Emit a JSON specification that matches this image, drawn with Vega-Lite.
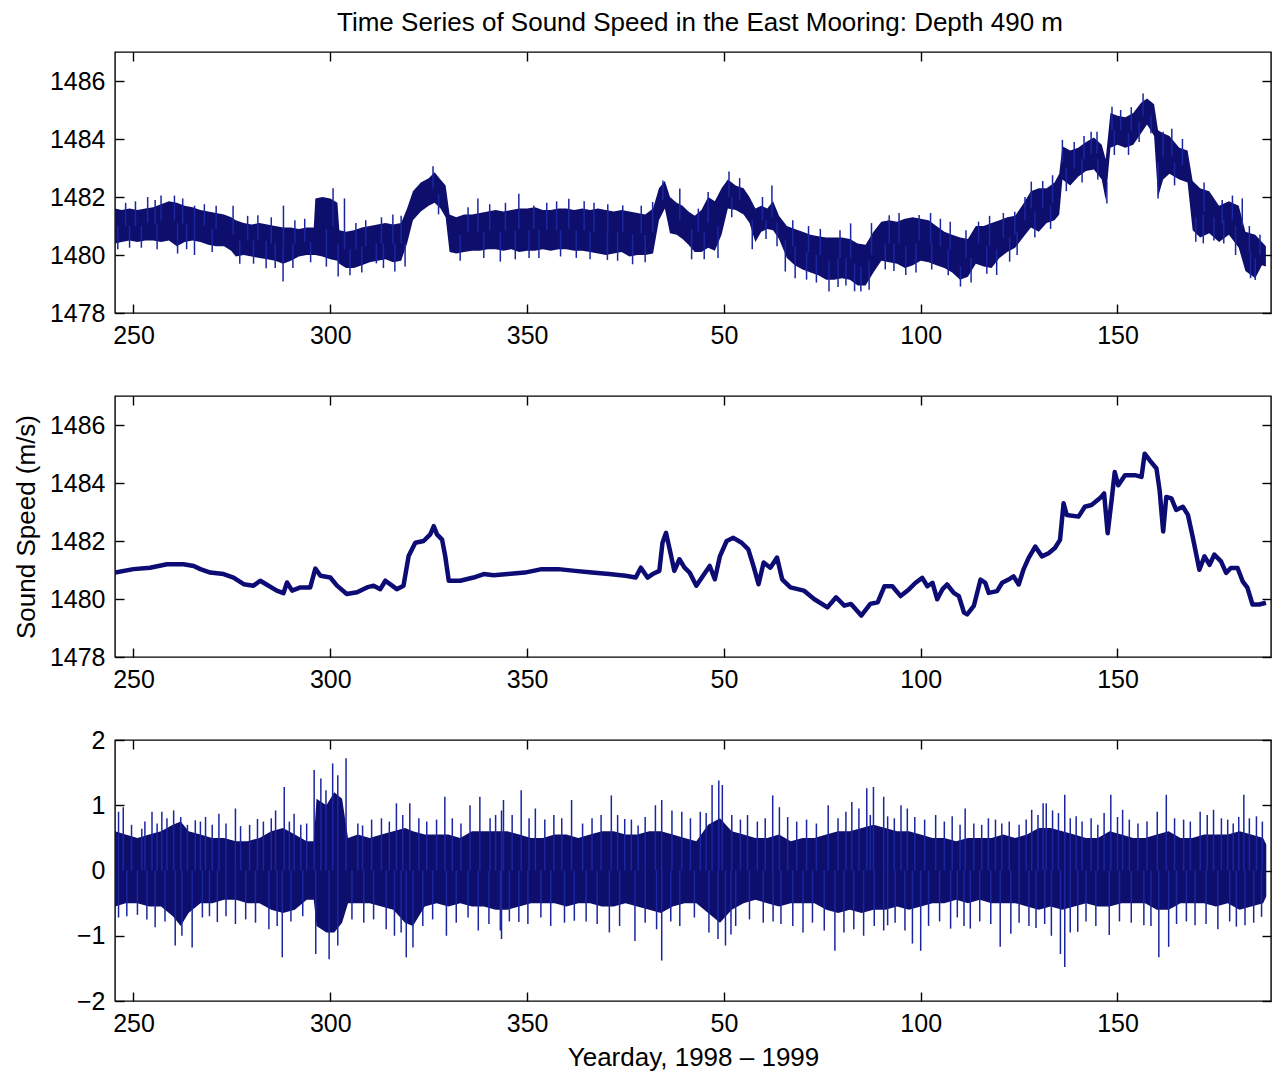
{
  "$schema": "https://vega.github.io/schema/vega-lite/v6.json",
  "background": "white",
  "padding": {"left": 12, "top": 9, "right": 5, "bottom": 5},
  "spacing": 83,
  "bounds": "flush",
  "config": {
    "font": "Liberation Sans",
    "view": {"stroke": "#000000", "strokeWidth": 1.4},
    "axis": {"domain": false, "grid": false, "ticks": true, "tickColor": "#000000", "tickSize": -9, "tickWidth": 1.4, "labelFontSize": 25, "labelColor": "#000000", "labelPadding": 19, "labelFlush": false, "labelOverlap": false, "titleFontSize": 26, "titleFontWeight": "normal", "titleColor": "#000000", "titleFont": "Liberation Sans", "labelFont": "Liberation Sans"}
  },
  "datasets": {
    "top": [
      {"d":245.3,"hi":1481.6,"lo":1480.4},{"d":247,"hi":1481.55,"lo":1480.45},{"d":249,"hi":1481.6,"lo":1480.5},{"d":251,"hi":1481.55,"lo":1480.45},{"d":253,"hi":1481.6,"lo":1480.5},{"d":255,"hi":1481.65,"lo":1480.5},{"d":257,"hi":1481.75,"lo":1480.45},{"d":259,"hi":1481.85,"lo":1480.5},{"d":261,"hi":1481.8,"lo":1480.3},{"d":263,"hi":1481.7,"lo":1480.45},{"d":265,"hi":1481.65,"lo":1480.5},{"d":267,"hi":1481.55,"lo":1480.45},{"d":269,"hi":1481.5,"lo":1480.35},{"d":271,"hi":1481.45,"lo":1480.3},{"d":273,"hi":1481.4,"lo":1480.3},{"d":274.8,"hi":1481.3,"lo":1480.15},{"d":276,"hi":1481.2,"lo":1479.95},{"d":278,"hi":1481.1,"lo":1480.0},{"d":280,"hi":1481.05,"lo":1479.95},{"d":282,"hi":1481.1,"lo":1479.9},{"d":284,"hi":1481.05,"lo":1479.85},{"d":286,"hi":1481.0,"lo":1479.8},{"d":288,"hi":1480.95,"lo":1479.7},{"d":290,"hi":1480.95,"lo":1479.8},{"d":292,"hi":1480.9,"lo":1479.95},{"d":294,"hi":1480.95,"lo":1480.0},{"d":295.8,"hi":1480.95,"lo":1480.0},{"d":296.2,"hi":1481.95,"lo":1480.0},{"d":298,"hi":1482.0,"lo":1479.95},{"d":300,"hi":1481.95,"lo":1479.85},{"d":301.8,"hi":1481.8,"lo":1479.8},{"d":302.3,"hi":1480.85,"lo":1479.7},{"d":304,"hi":1480.8,"lo":1479.55},{"d":306,"hi":1480.85,"lo":1479.55},{"d":308,"hi":1480.95,"lo":1479.65},{"d":310,"hi":1481.0,"lo":1479.75},{"d":312,"hi":1481.05,"lo":1479.8},{"d":314,"hi":1481.1,"lo":1479.85},{"d":316,"hi":1481.05,"lo":1479.75},{"d":318,"hi":1481.1,"lo":1479.8},{"d":319.5,"hi":1481.6,"lo":1480.4},{"d":321,"hi":1482.2,"lo":1481.2},{"d":323,"hi":1482.5,"lo":1481.5},{"d":325,"hi":1482.65,"lo":1481.7},{"d":326.5,"hi":1482.85,"lo":1481.8},{"d":328,"hi":1482.6,"lo":1481.6},{"d":329.3,"hi":1482.4,"lo":1481.3},{"d":330.3,"hi":1481.4,"lo":1480.1},{"d":332,"hi":1481.3,"lo":1480.05},{"d":334,"hi":1481.4,"lo":1480.1},{"d":336,"hi":1481.4,"lo":1480.15},{"d":338,"hi":1481.45,"lo":1480.15},{"d":340,"hi":1481.5,"lo":1480.2},
      {"d":342,"hi":1481.55,"lo":1480.2},{"d":344,"hi":1481.5,"lo":1480.15},{"d":346,"hi":1481.55,"lo":1480.2},{"d":348,"hi":1481.6,"lo":1480.1},{"d":350,"hi":1481.6,"lo":1480.15},{"d":352,"hi":1481.65,"lo":1480.15},{"d":354,"hi":1481.55,"lo":1480.2},{"d":356,"hi":1481.55,"lo":1480.15},{"d":358,"hi":1481.6,"lo":1480.2},{"d":360,"hi":1481.6,"lo":1480.2},{"d":362,"hi":1481.55,"lo":1480.15},{"d":364,"hi":1481.6,"lo":1480.15},{"d":366,"hi":1481.55,"lo":1480.1},{"d":368,"hi":1481.6,"lo":1480.05},{"d":370,"hi":1481.55,"lo":1480.0},{"d":372,"hi":1481.5,"lo":1480.05},{"d":374,"hi":1481.55,"lo":1480.1},{"d":376,"hi":1481.5,"lo":1479.95},{"d":378,"hi":1481.45,"lo":1480.0},{"d":380,"hi":1481.4,"lo":1480.0},{"d":382,"hi":1481.6,"lo":1480.05},{"d":383.5,"hi":1482.3,"lo":1481.2},{"d":385,"hi":1482.55,"lo":1481.6},{"d":386.3,"hi":1482.0,"lo":1480.75},{"d":388,"hi":1481.8,"lo":1480.7},{"d":389.5,"hi":1481.7,"lo":1480.55},{"d":391,"hi":1481.5,"lo":1480.35},{"d":392.6,"hi":1481.35,"lo":1480.1},{"d":394.3,"hi":1481.55,"lo":1480.1},{"d":396,"hi":1482.0,"lo":1480.25},{"d":397.7,"hi":1481.85,"lo":1480.15},{"d":399.4,"hi":1482.3,"lo":1480.7},{"d":401,"hi":1482.6,"lo":1481.6},{"d":403,"hi":1482.4,"lo":1481.55},{"d":405,"hi":1482.3,"lo":1481.4},{"d":406.5,"hi":1482.0,"lo":1481.1},{"d":408,"hi":1481.6,"lo":1480.45},{"d":409.5,"hi":1481.7,"lo":1480.8},{"d":411,"hi":1481.6,"lo":1480.9},{"d":412.5,"hi":1481.85,"lo":1480.85},{"d":414,"hi":1481.35,"lo":1480.55},{"d":416,"hi":1481.0,"lo":1479.9},{"d":418,"hi":1480.9,"lo":1479.65},{"d":420,"hi":1480.8,"lo":1479.5},{"d":422,"hi":1480.7,"lo":1479.4},{"d":424,"hi":1480.65,"lo":1479.3},{"d":426,"hi":1480.6,"lo":1479.15},{"d":428,"hi":1480.6,"lo":1479.15},{"d":430,"hi":1480.6,"lo":1479.2},{"d":432,"hi":1480.55,"lo":1479.15},{"d":434,"hi":1480.4,"lo":1478.95},{"d":436,"hi":1480.35,"lo":1478.95},{"d":438,"hi":1480.8,"lo":1479.4},{"d":440,"hi":1481.15,"lo":1479.8},
      {"d":442,"hi":1481.2,"lo":1479.75},{"d":444,"hi":1481.15,"lo":1479.7},{"d":446,"hi":1481.25,"lo":1479.55},{"d":448,"hi":1481.3,"lo":1479.65},{"d":450,"hi":1481.25,"lo":1479.8},{"d":452,"hi":1481.2,"lo":1479.75},{"d":454,"hi":1481.0,"lo":1479.65},{"d":456,"hi":1480.8,"lo":1479.55},{"d":458,"hi":1480.7,"lo":1479.4},{"d":460,"hi":1480.6,"lo":1479.15},{"d":462,"hi":1480.55,"lo":1479.25},{"d":464,"hi":1481.0,"lo":1479.7},{"d":466,"hi":1481.0,"lo":1479.6},{"d":468,"hi":1481.1,"lo":1479.55},{"d":470,"hi":1481.2,"lo":1479.9},{"d":472,"hi":1481.3,"lo":1480.1},{"d":474,"hi":1481.35,"lo":1480.25},{"d":476,"hi":1481.75,"lo":1480.6},{"d":478,"hi":1482.2,"lo":1480.95},{"d":480,"hi":1482.3,"lo":1480.8},{"d":482,"hi":1482.3,"lo":1481.1},{"d":484,"hi":1482.5,"lo":1481.2},{"d":485.2,"hi":1482.8,"lo":1481.4},{"d":486,"hi":1483.75,"lo":1482.6},{"d":488,"hi":1483.6,"lo":1482.4},{"d":490,"hi":1483.7,"lo":1482.7},{"d":492,"hi":1483.9,"lo":1482.9},{"d":494,"hi":1484.05,"lo":1482.95},{"d":496,"hi":1483.8,"lo":1482.6},{"d":497,"hi":1483.3,"lo":1481.9},{"d":498.2,"hi":1484.9,"lo":1483.7},{"d":500,"hi":1484.8,"lo":1483.8},{"d":502,"hi":1484.75,"lo":1483.7},{"d":504,"hi":1484.9,"lo":1483.8},{"d":506,"hi":1485.25,"lo":1484.2},{"d":507.5,"hi":1485.4,"lo":1484.5},{"d":509.3,"hi":1485.2,"lo":1484.1},{"d":510.3,"hi":1484.3,"lo":1482.0},{"d":511.6,"hi":1484.2,"lo":1482.6},{"d":513.2,"hi":1484.1,"lo":1482.8},{"d":515.7,"hi":1483.7,"lo":1482.6},{"d":517.8,"hi":1483.6,"lo":1482.5},{"d":519.1,"hi":1482.55,"lo":1480.85},{"d":521,"hi":1482.3,"lo":1480.6},{"d":523.3,"hi":1482.2,"lo":1480.75},{"d":525.8,"hi":1481.7,"lo":1480.45},{"d":528.3,"hi":1481.85,"lo":1480.7},{"d":530.8,"hi":1481.7,"lo":1480.25},{"d":532.5,"hi":1480.8,"lo":1479.45},{"d":535,"hi":1480.7,"lo":1479.2},{"d":536.7,"hi":1480.45,"lo":1479.65},{"d":537.7,"hi":1480.3,"lo":1479.6}
    ],
    "tsp": [
      {"d":253.6,"t":1482.0,"b":1481.1},{"d":257,"t":1482.05,"b":1481.2},{"d":260.4,"t":1482.05,"b":1481.2},{"d":265.5,"t":1481.7,"b":1481.1},{"d":275.3,"t":1481.7,"b":1480.7},{"d":281.6,"t":1481.37,"b":1480.5},{"d":288.1,"t":1481.7,"b":1480.3},{"d":300.7,"t":1482.3,"b":1481.0},{"d":303.6,"t":1481.95,"b":1480.2},{"d":315.9,"t":1481.4,"b":1480.4},{"d":326.1,"t":1483.06,"b":1482.3},{"d":337.5,"t":1481.95,"b":1480.8},{"d":347.9,"t":1482.11,"b":1480.9},{"d":351.7,"t":1481.71,"b":1480.9},{"d":360.6,"t":1481.94,"b":1480.9},{"d":374.3,"t":1481.71,"b":1480.8},{"d":381.9,"t":1481.83,"b":1480.8},{"d":384.5,"t":1482.57,"b":1481.9},{"d":388.8,"t":1482.29,"b":1481.2},{"d":396,"t":1482.17,"b":1481.1},{"d":401.3,"t":1482.88,"b":1482.0},{"d":412.2,"t":1482.4,"b":1481.3},{"d":432.2,"t":1481.09,"b":1479.9},{"d":442,"t":1481.37,"b":1480.4},{"d":449.6,"t":1481.38,"b":1480.5},{"d":457.5,"t":1481.15,"b":1480.2},{"d":464.7,"t":1481.15,"b":1480.4},{"d":473.9,"t":1481.49,"b":1480.7},{"d":478.1,"t":1482.53,"b":1481.6},{"d":486,"t":1483.97,"b":1483.2},{"d":494.8,"t":1484.25,"b":1483.5},{"d":498.6,"t":1485.11,"b":1484.3},{"d":506.5,"t":1485.57,"b":1484.8},{"d":511.6,"t":1484.25,"b":1483.4},{"d":526.6,"t":1481.9,"b":1481.1},{"d":531.7,"t":1481.95,"b":1481.0},
      {"d":246,"t":1480.2,"b":1481.0},{"d":261.2,"t":1480.05,"b":1481.1},{"d":265.5,"t":1480.0,"b":1481.1},{"d":283.7,"t":1479.54,"b":1480.5},{"d":288,"t":1479.09,"b":1480.3},{"d":302,"t":1479.26,"b":1480.4},{"d":311.7,"t":1479.71,"b":1480.4},{"d":316.4,"t":1479.43,"b":1480.4},{"d":343.2,"t":1479.77,"b":1480.8},{"d":370.4,"t":1479.83,"b":1480.8},{"d":376.8,"t":1479.68,"b":1480.7},{"d":415.6,"t":1479.43,"b":1480.5},{"d":418.1,"t":1479.2,"b":1480.3},{"d":426.7,"t":1478.74,"b":1479.8},{"d":434.8,"t":1478.74,"b":1479.6},{"d":436.9,"t":1478.8,"b":1479.8},{"d":446.2,"t":1479.31,"b":1480.3},{"d":460.1,"t":1478.91,"b":1479.6},{"d":469.3,"t":1479.31,"b":1480.2},{"d":472.6,"t":1479.77,"b":1480.6},{"d":497.3,"t":1481.78,"b":1482.5},{"d":510.3,"t":1481.95,"b":1483.2},{"d":519.9,"t":1480.46,"b":1481.3},{"d":535,"t":1479.14,"b":1479.9},
      {"d":248,"t":1481.8,"b":1481.0},{"d":250.5,"t":1481.85,"b":1481.0},{"d":255.5,"t":1481.9,"b":1481.05},{"d":262.5,"t":1481.95,"b":1481.05},{"d":268,"t":1481.75,"b":1481.0},{"d":271,"t":1481.7,"b":1480.9},{"d":279,"t":1481.35,"b":1480.5},{"d":285,"t":1481.3,"b":1480.4},{"d":291,"t":1481.2,"b":1480.4},{"d":293.5,"t":1481.25,"b":1480.45},{"d":306.5,"t":1481.1,"b":1480.2},{"d":309,"t":1481.2,"b":1480.3},{"d":313,"t":1481.3,"b":1480.4},{"d":318,"t":1481.35,"b":1480.4},{"d":335,"t":1481.65,"b":1480.8},{"d":340.5,"t":1481.75,"b":1480.85},{"d":344.5,"t":1481.8,"b":1480.85},{"d":355,"t":1481.8,"b":1480.85},{"d":357.5,"t":1481.85,"b":1480.85},{"d":364.5,"t":1481.85,"b":1480.85},{"d":367,"t":1481.8,"b":1480.8},{"d":370.5,"t":1481.75,"b":1480.8},{"d":379,"t":1481.7,"b":1480.75},{"d":393.5,"t":1481.6,"b":1480.8},{"d":404,"t":1482.65,"b":1481.9},{"d":409.8,"t":1482.0,"b":1481.2},{"d":417.5,"t":1481.2,"b":1480.3},{"d":421.5,"t":1481.0,"b":1480.1},{"d":424.5,"t":1480.9,"b":1480.0},{"d":429.5,"t":1480.85,"b":1479.9},{"d":437.5,"t":1481.1,"b":1480.0},{"d":444.5,"t":1481.45,"b":1480.4},{"d":452.5,"t":1481.45,"b":1480.4},{"d":455,"t":1481.25,"b":1480.3},{"d":461.5,"t":1480.85,"b":1479.9},{"d":467.5,"t":1481.35,"b":1480.3},{"d":471,"t":1481.45,"b":1480.6},{"d":476.5,"t":1482.0,"b":1481.2},{"d":481,"t":1482.55,"b":1481.6},{"d":483.5,"t":1482.75,"b":1481.8},{"d":489,"t":1483.9,"b":1483.0},{"d":491.5,"t":1484.1,"b":1483.3},{"d":493.3,"t":1484.25,"b":1483.5},{"d":500.8,"t":1485.0,"b":1484.3},{"d":503.5,"t":1485.1,"b":1484.3},{"d":513.8,"t":1484.35,"b":1483.4},{"d":516.5,"t":1484.0,"b":1483.1},{"d":522,"t":1482.5,"b":1481.5},{"d":529.2,"t":1482.05,"b":1481.2},{"d":533.5,"t":1481.0,"b":1480.1},{"d":536.2,"t":1480.7,"b":1480.0},
      {"d":249,"t":1480.25,"b":1481.0},{"d":252,"t":1480.25,"b":1481.0},{"d":256,"t":1480.2,"b":1481.05},{"d":263.5,"t":1480.2,"b":1481.05},{"d":270,"t":1480.1,"b":1480.9},{"d":277,"t":1479.7,"b":1480.5},{"d":280.5,"t":1479.7,"b":1480.5},{"d":286,"t":1479.55,"b":1480.4},{"d":290.5,"t":1479.55,"b":1480.4},{"d":295,"t":1479.75,"b":1480.45},{"d":299,"t":1479.6,"b":1480.9},{"d":305,"t":1479.3,"b":1480.2},{"d":308,"t":1479.4,"b":1480.3},{"d":313.5,"t":1479.55,"b":1480.4},{"d":319,"t":1479.6,"b":1480.4},{"d":327.5,"t":1481.4,"b":1482.1},{"d":333,"t":1479.8,"b":1480.7},{"d":339,"t":1479.9,"b":1480.8},{"d":347,"t":1479.85,"b":1480.85},{"d":350.5,"t":1479.9,"b":1480.85},{"d":353,"t":1479.9,"b":1480.85},{"d":358.5,"t":1479.95,"b":1480.85},{"d":362.5,"t":1479.9,"b":1480.85},{"d":366,"t":1479.85,"b":1480.8},{"d":373,"t":1479.8,"b":1480.8},{"d":380,"t":1479.75,"b":1480.7},{"d":391.8,"t":1479.85,"b":1480.9},{"d":395,"t":1479.85,"b":1480.8},{"d":398.5,"t":1479.9,"b":1481.0},{"d":402,"t":1481.3,"b":1482.0},{"d":407.2,"t":1480.2,"b":1481.2},{"d":410.7,"t":1480.55,"b":1481.2},{"d":413.5,"t":1480.3,"b":1481.1},{"d":421,"t":1479.15,"b":1480.1},{"d":423.5,"t":1479.05,"b":1480.0},{"d":429,"t":1478.9,"b":1479.9},{"d":431,"t":1478.95,"b":1479.9},{"d":433.2,"t":1478.75,"b":1479.7},{"d":441,"t":1479.5,"b":1480.4},{"d":443.2,"t":1479.45,"b":1480.4},{"d":448.8,"t":1479.4,"b":1480.4},{"d":452.8,"t":1479.5,"b":1480.4},{"d":457,"t":1479.3,"b":1480.2},{"d":462.8,"t":1479.05,"b":1479.9},{"d":466.8,"t":1479.35,"b":1480.3},{"d":474.5,"t":1480.0,"b":1480.8},{"d":479,"t":1480.6,"b":1481.5},{"d":483,"t":1480.9,"b":1481.7},{"d":487,"t":1482.2,"b":1483.0},{"d":491,"t":1482.5,"b":1483.3},{"d":495,"t":1482.6,"b":1483.3},{"d":499.2,"t":1483.45,"b":1484.3},{"d":502.8,"t":1483.45,"b":1484.2},{"d":505.5,"t":1483.9,"b":1484.6},{"d":508.5,"t":1484.2,"b":1484.8},{"d":514.5,"t":1482.4,"b":1483.2},{"d":521.8,"t":1480.4,"b":1481.4},{"d":524.5,"t":1480.5,"b":1481.3},{"d":527,"t":1480.4,"b":1481.2},{"d":530,"t":1480.0,"b":1481.0},{"d":533.8,"t":1479.2,"b":1480.1}
    ],
    "mid": [
      {"d":245.3,"v":1480.91},{"d":250,"v":1481.03},{"d":254.2,"v":1481.08},{"d":258.5,"v":1481.2},{"d":262.7,"v":1481.2},{"d":265.3,"v":1481.14},{"d":267,"v":1481.03},{"d":269.5,"v":1480.91},{"d":272.9,"v":1480.86},{"d":275.4,"v":1480.74},{"d":278,"v":1480.51},{"d":280.5,"v":1480.46},{"d":282.2,"v":1480.63},{"d":283.9,"v":1480.49},{"d":286.4,"v":1480.29},{"d":288.1,"v":1480.2},{"d":289,"v":1480.57},{"d":290.3,"v":1480.29},{"d":292.4,"v":1480.4},{"d":294.9,"v":1480.4},{"d":296.2,"v":1481.05},{"d":297.5,"v":1480.8},{"d":300,"v":1480.74},{"d":301.7,"v":1480.46},{"d":304.2,"v":1480.17},{"d":306.8,"v":1480.23},{"d":309.3,"v":1480.4},{"d":311,"v":1480.46},{"d":312.7,"v":1480.34},{"d":314,"v":1480.63},{"d":315.7,"v":1480.46},{"d":316.9,"v":1480.34},{"d":318.6,"v":1480.46},{"d":319.9,"v":1481.48},{"d":321.6,"v":1481.94},{"d":323.7,"v":1482.0},{"d":325.4,"v":1482.23},{"d":326.3,"v":1482.51},{"d":327.1,"v":1482.23},{"d":328.4,"v":1482.05},{"d":329.2,"v":1481.48},{"d":330.1,"v":1480.63},{"d":333,"v":1480.63},{"d":336.4,"v":1480.74},{"d":339,"v":1480.86},
      {"d":341.5,"v":1480.82},{"d":345.1,"v":1480.86},{"d":349.4,"v":1480.91},{"d":353.7,"v":1481.03},{"d":357.9,"v":1481.03},{"d":362.2,"v":1480.97},{"d":366.5,"v":1480.91},{"d":370.8,"v":1480.86},{"d":375,"v":1480.8},{"d":377.6,"v":1480.74},{"d":378.9,"v":1481.08},{"d":380.6,"v":1480.74},{"d":381.9,"v":1480.86},{"d":383.6,"v":1480.97},{"d":384.4,"v":1481.94},{"d":385.3,"v":1482.28},{"d":386.6,"v":1481.48},{"d":387.4,"v":1480.97},{"d":388.7,"v":1481.37},{"d":390,"v":1481.08},{"d":391.3,"v":1480.91},{"d":393,"v":1480.46},{"d":394.7,"v":1480.8},{"d":396.4,"v":1481.14},{"d":397.7,"v":1480.68},{"d":399,"v":1481.48},{"d":400.7,"v":1482.0},{"d":402.4,"v":1482.11},{"d":404.5,"v":1481.94},{"d":406.2,"v":1481.71},{"d":407.5,"v":1481.14},{"d":408.8,"v":1480.51},{"d":410.1,"v":1481.26},{"d":411.8,"v":1481.08},{"d":413.5,"v":1481.43},{"d":414.8,"v":1480.68},{"d":416.9,"v":1480.4},{"d":420.3,"v":1480.29},{"d":422.9,"v":1480.0},{"d":426.3,"v":1479.71},{"d":428.5,"v":1480.06},{"d":430.6,"v":1479.77},{"d":432.3,"v":1479.83},{"d":434.9,"v":1479.43},{"d":437.2,"v":1479.83},{"d":439.1,"v":1479.89},
      {"d":440.8,"v":1480.44},{"d":442.8,"v":1480.44},{"d":444.9,"v":1480.1},{"d":447,"v":1480.33},{"d":448.7,"v":1480.56},{"d":450.4,"v":1480.73},{"d":451.7,"v":1480.44},{"d":453,"v":1480.56},{"d":454.2,"v":1479.99},{"d":455.5,"v":1480.33},{"d":456.7,"v":1480.5},{"d":458.4,"v":1480.21},{"d":459.7,"v":1480.1},{"d":461,"v":1479.53},{"d":461.8,"v":1479.47},{"d":463.5,"v":1479.76},{"d":465.2,"v":1480.67},{"d":466.4,"v":1480.56},{"d":467.3,"v":1480.21},{"d":469.4,"v":1480.27},{"d":470.7,"v":1480.56},{"d":472.3,"v":1480.67},{"d":473.6,"v":1480.78},{"d":474.9,"v":1480.5},{"d":476.1,"v":1481.01},{"d":477.4,"v":1481.41},{"d":479.1,"v":1481.81},{"d":480.8,"v":1481.47},{"d":482.5,"v":1481.58},{"d":484.1,"v":1481.76},{"d":485.4,"v":1482.04},{"d":486.3,"v":1483.3},{"d":487.1,"v":1482.9},{"d":490.1,"v":1482.84},{"d":491.7,"v":1483.18},{"d":493.4,"v":1483.24},{"d":495.5,"v":1483.47},{"d":496.6,"v":1483.64},{"d":497.5,"v":1482.27},{"d":498.5,"v":1483.41},{"d":499.3,"v":1484.38},{"d":500.2,"v":1483.92},{"d":501.9,"v":1484.27},{"d":504.4,"v":1484.27},{"d":506.1,"v":1484.21},{"d":506.9,"v":1485.01},{"d":508.2,"v":1484.78},{"d":509.9,"v":1484.5},{"d":510.7,"v":1483.75},{"d":511.6,"v":1482.33},{"d":512.4,"v":1483.52},{"d":513.7,"v":1483.47},{"d":514.9,"v":1483.07},{"d":516.6,"v":1483.18},{"d":517.9,"v":1482.9},{"d":519.1,"v":1482.15},{"d":520.8,"v":1481.01},{"d":522.1,"v":1481.47},{"d":523.4,"v":1481.18},{"d":524.6,"v":1481.53},{"d":526.3,"v":1481.3},{"d":527.6,"v":1480.9},{"d":528.8,"v":1481.07},{"d":530.5,"v":1481.07},{"d":531.8,"v":1480.61},{"d":533,"v":1480.39},{"d":534.3,"v":1479.81},{"d":536,"v":1479.81},{"d":537.7,"v":1479.87}
    ],
    "bot": [
      {"d":245.3,"hi":0.6,"lo":-0.55},{"d":248,"hi":0.55,"lo":-0.5},{"d":251,"hi":0.5,"lo":-0.5},{"d":254,"hi":0.55,"lo":-0.55},{"d":257,"hi":0.6,"lo":-0.55},{"d":260,"hi":0.7,"lo":-0.7},{"d":262,"hi":0.75,"lo":-0.85},{"d":264,"hi":0.6,"lo":-0.65},{"d":267,"hi":0.55,"lo":-0.5},{"d":270,"hi":0.5,"lo":-0.5},{"d":273,"hi":0.5,"lo":-0.45},{"d":276,"hi":0.45,"lo":-0.45},{"d":279,"hi":0.45,"lo":-0.5},{"d":282,"hi":0.5,"lo":-0.5},{"d":285,"hi":0.6,"lo":-0.6},{"d":288,"hi":0.65,"lo":-0.65},{"d":291,"hi":0.55,"lo":-0.6},{"d":294,"hi":0.45,"lo":-0.45},{"d":295.8,"hi":0.45,"lo":-0.45},{"d":296.5,"hi":1.1,"lo":-0.85},{"d":299,"hi":1.0,"lo":-0.95},{"d":301,"hi":1.2,"lo":-0.95},{"d":303,"hi":1.1,"lo":-0.8},{"d":304.5,"hi":0.5,"lo":-0.5},{"d":307,"hi":0.55,"lo":-0.5},{"d":310,"hi":0.5,"lo":-0.5},{"d":313,"hi":0.55,"lo":-0.55},{"d":316,"hi":0.6,"lo":-0.6},{"d":319,"hi":0.65,"lo":-0.8},{"d":321,"hi":0.6,"lo":-0.85},{"d":324,"hi":0.55,"lo":-0.55},{"d":327,"hi":0.55,"lo":-0.5},{"d":330,"hi":0.55,"lo":-0.55},{"d":333,"hi":0.5,"lo":-0.5},{"d":336,"hi":0.6,"lo":-0.55},{"d":339,"hi":0.6,"lo":-0.55},{"d":342,"hi":0.6,"lo":-0.6},
      {"d":345,"hi":0.6,"lo":-0.6},{"d":348,"hi":0.55,"lo":-0.55},{"d":351,"hi":0.5,"lo":-0.5},{"d":354,"hi":0.5,"lo":-0.5},{"d":357,"hi":0.55,"lo":-0.5},{"d":360,"hi":0.55,"lo":-0.55},{"d":363,"hi":0.5,"lo":-0.5},{"d":366,"hi":0.55,"lo":-0.5},{"d":369,"hi":0.6,"lo":-0.55},{"d":372,"hi":0.6,"lo":-0.55},{"d":375,"hi":0.55,"lo":-0.5},{"d":378,"hi":0.55,"lo":-0.55},{"d":381,"hi":0.6,"lo":-0.6},{"d":384,"hi":0.6,"lo":-0.65},{"d":387,"hi":0.55,"lo":-0.55},{"d":390,"hi":0.5,"lo":-0.5},{"d":393,"hi":0.45,"lo":-0.5},{"d":396,"hi":0.7,"lo":-0.65},{"d":399,"hi":0.8,"lo":-0.8},{"d":402,"hi":0.6,"lo":-0.6},{"d":405,"hi":0.55,"lo":-0.5},{"d":408,"hi":0.5,"lo":-0.45},{"d":411,"hi":0.5,"lo":-0.5},{"d":414,"hi":0.55,"lo":-0.55},{"d":417,"hi":0.45,"lo":-0.5},{"d":420,"hi":0.5,"lo":-0.5},{"d":423,"hi":0.5,"lo":-0.5},{"d":426,"hi":0.55,"lo":-0.6},{"d":429,"hi":0.6,"lo":-0.65},{"d":432,"hi":0.6,"lo":-0.6},{"d":435,"hi":0.65,"lo":-0.65},{"d":438,"hi":0.7,"lo":-0.6},{"d":441,"hi":0.65,"lo":-0.6},
      {"d":444,"hi":0.6,"lo":-0.55},{"d":447,"hi":0.6,"lo":-0.6},{"d":450,"hi":0.55,"lo":-0.55},{"d":453,"hi":0.5,"lo":-0.5},{"d":456,"hi":0.5,"lo":-0.5},{"d":459,"hi":0.45,"lo":-0.45},{"d":462,"hi":0.5,"lo":-0.5},{"d":465,"hi":0.5,"lo":-0.45},{"d":468,"hi":0.5,"lo":-0.5},{"d":471,"hi":0.55,"lo":-0.5},{"d":474,"hi":0.5,"lo":-0.5},{"d":477,"hi":0.55,"lo":-0.55},{"d":480,"hi":0.65,"lo":-0.6},{"d":483,"hi":0.65,"lo":-0.55},{"d":486,"hi":0.6,"lo":-0.6},{"d":489,"hi":0.55,"lo":-0.55},{"d":492,"hi":0.5,"lo":-0.5},{"d":495,"hi":0.5,"lo":-0.55},{"d":498,"hi":0.6,"lo":-0.55},{"d":501,"hi":0.55,"lo":-0.5},{"d":504,"hi":0.5,"lo":-0.5},{"d":507,"hi":0.5,"lo":-0.5},{"d":510,"hi":0.55,"lo":-0.6},{"d":513,"hi":0.6,"lo":-0.6},{"d":516,"hi":0.5,"lo":-0.5},{"d":519,"hi":0.5,"lo":-0.5},{"d":522,"hi":0.55,"lo":-0.5},{"d":525,"hi":0.55,"lo":-0.55},{"d":528,"hi":0.55,"lo":-0.5},{"d":531,"hi":0.6,"lo":-0.6},{"d":534,"hi":0.55,"lo":-0.55},{"d":537,"hi":0.5,"lo":-0.5},{"d":537.8,"hi":0.4,"lo":-0.4}
    ],
    "bsp": [
      {"d":246.2,"v":0.9},{"d":247.4,"v":0.97},{"d":252.1,"v":0.64},{"d":254.7,"v":0.9},{"d":257.2,"v":0.9},{"d":260.2,"v":0.92},{"d":265.7,"v":0.77},{"d":268.3,"v":0.82},{"d":271.7,"v":0.87},{"d":275.9,"v":0.95},{"d":281.5,"v":0.79},{"d":286.1,"v":0.92},{"d":288.3,"v":1.28},{"d":290.8,"v":0.87},{"d":295.9,"v":1.54},{"d":297.6,"v":1.41},{"d":298.9,"v":1.23},{"d":300.6,"v":1.64},{"d":301.9,"v":1.46},{"d":304,"v":1.72},{"d":308.2,"v":0.69},{"d":316.8,"v":1.03},{"d":320.2,"v":1.03},{"d":329.1,"v":1.13},{"d":335.5,"v":1.0},{"d":338,"v":1.13},{"d":343.5,"v":0.92},
      {"d":246.2,"v":-0.72},{"d":255.5,"v":-0.87},{"d":260.6,"v":-1.15},{"d":264.9,"v":-1.18},{"d":271.3,"v":-0.79},{"d":275.9,"v":-0.82},{"d":284.4,"v":-0.9},{"d":287.8,"v":-1.33},{"d":296.3,"v":-1.28},{"d":299.7,"v":-1.36},{"d":301.9,"v":-1.15},{"d":314.2,"v":-0.9},{"d":316.3,"v":-1.0},{"d":319.3,"v":-1.33},{"d":321,"v":-1.18},{"d":329.5,"v":-1.0},{"d":337.6,"v":-0.92},{"d":343.5,"v":-1.05},
      {"d":344,"v":1.08},{"d":348.5,"v":1.23},{"d":352.1,"v":0.95},{"d":356.8,"v":0.85},{"d":361.3,"v":1.08},{"d":364.1,"v":0.72},{"d":368.8,"v":0.85},{"d":371.4,"v":1.15},{"d":374.8,"v":0.79},{"d":378.2,"v":0.69},{"d":382.6,"v":1.0},{"d":384.2,"v":1.08},{"d":386.8,"v":0.92},{"d":389.3,"v":0.9},{"d":394,"v":0.9},{"d":397,"v":1.31},{"d":398.7,"v":1.38},{"d":399.6,"v":1.31},{"d":406,"v":0.85},{"d":412.4,"v":1.15},{"d":414.1,"v":0.97},{"d":416.2,"v":0.82},{"d":426.5,"v":1.0},{"d":432.5,"v":1.05},{"d":436.3,"v":1.26},{"d":438,"v":1.28},{"d":440.6,"v":1.13},
      {"d":343.2,"v":-0.92},{"d":347.9,"v":-0.79},{"d":362,"v":-0.77},{"d":370.9,"v":-0.95},{"d":377.4,"v":-1.08},{"d":382.9,"v":-0.9},{"d":384.2,"v":-1.38},{"d":396.2,"v":-0.95},{"d":400.4,"v":-1.15},{"d":403,"v":-0.85},{"d":414.5,"v":-0.82},{"d":420.1,"v":-0.95},{"d":428.2,"v":-1.23},{"d":435.5,"v":-1.0},{"d":440.6,"v":-0.92},
      {"d":441.6,"v":0.83},{"d":445,"v":1.0},{"d":446.6,"v":0.95},{"d":453.8,"v":0.85},{"d":458,"v":0.83},{"d":461.3,"v":0.95},{"d":467.2,"v":0.8},{"d":470.6,"v":0.72},{"d":478.2,"v":0.93},{"d":481.1,"v":1.03},{"d":481.9,"v":1.03},{"d":486.6,"v":1.16},{"d":489.5,"v":0.83},{"d":493.3,"v":0.8},{"d":496.6,"v":0.88},{"d":498.3,"v":1.16},{"d":501.3,"v":0.93},{"d":510.1,"v":0.9},{"d":512.4,"v":1.16},{"d":521,"v":0.9},{"d":524.4,"v":0.93},{"d":529.4,"v":0.72},{"d":532.1,"v":1.16},{"d":535.3,"v":0.83},
      {"d":441.6,"v":-0.84},{"d":447.9,"v":-1.12},{"d":450,"v":-1.23},{"d":457.6,"v":-0.89},{"d":462.6,"v":-0.89},{"d":470.2,"v":-1.17},{"d":472.9,"v":-0.97},{"d":481.5,"v":-0.82},{"d":485.5,"v":-1.28},{"d":486.6,"v":-1.48},{"d":489.9,"v":-0.94},{"d":497.9,"v":-0.99},{"d":506.7,"v":-0.84},{"d":510.5,"v":-1.33},{"d":513,"v":-1.17},{"d":519.7,"v":-0.84},{"d":532.4,"v":-0.84},{"d":536.6,"v":-0.71},
      {"d":249.5,"v":0.7},{"d":252.9,"v":0.75},{"d":256,"v":0.72},{"d":258.5,"v":0.8},{"d":262,"v":0.82},{"d":263.7,"v":0.7},{"d":267,"v":0.75},{"d":270,"v":0.7},{"d":273.5,"v":0.72},{"d":277.2,"v":0.68},{"d":279.5,"v":0.7},{"d":283,"v":0.75},{"d":285,"v":0.8},{"d":289.6,"v":0.75},{"d":292.5,"v":0.7},{"d":294,"v":0.72},{"d":307,"v":0.72},{"d":310.5,"v":0.78},{"d":313,"v":0.8},{"d":315,"v":0.75},{"d":318.4,"v":0.85},{"d":322.5,"v":0.8},{"d":324.5,"v":0.75},{"d":327,"v":0.78},{"d":331,"v":0.8},{"d":333.2,"v":0.72},{"d":340.6,"v":0.8},{"d":342,"v":0.85},
      {"d":248.3,"v":-0.7},{"d":251,"v":-0.68},{"d":253.4,"v":-0.75},{"d":258,"v":-0.78},{"d":262.3,"v":-1.0},{"d":267.5,"v":-0.72},{"d":269.3,"v":-0.7},{"d":273.5,"v":-0.7},{"d":278.5,"v":-0.75},{"d":281,"v":-0.8},{"d":286.5,"v":-0.85},{"d":290,"v":-0.78},{"d":293,"v":-0.7},{"d":305.5,"v":-0.75},{"d":308.5,"v":-0.8},{"d":311,"v":-0.75},{"d":318,"v":-0.95},{"d":323.5,"v":-0.85},{"d":326,"v":-0.75},{"d":332,"v":-0.8},{"d":335,"v":-0.72},{"d":340.3,"v":-0.82},
      {"d":346.2,"v":0.85},{"d":350.5,"v":0.8},{"d":354.5,"v":0.78},{"d":358.8,"v":0.8},{"d":366.5,"v":0.8},{"d":373,"v":0.85},{"d":376.5,"v":0.78},{"d":380,"v":0.82},{"d":391.5,"v":0.8},{"d":395.5,"v":0.88},{"d":402,"v":0.85},{"d":404.2,"v":0.78},{"d":408.5,"v":0.75},{"d":410.5,"v":0.8},{"d":418.5,"v":0.75},{"d":421,"v":0.78},{"d":423.5,"v":0.72},{"d":429,"v":0.8},{"d":431,"v":0.9},{"d":434.3,"v":0.95},{"d":437.2,"v":0.85},
      {"d":345.5,"v":-0.78},{"d":350.2,"v":-0.82},{"d":353.5,"v":-0.72},{"d":356,"v":-0.85},{"d":359.5,"v":-0.8},{"d":365,"v":-0.78},{"d":367.8,"v":-0.82},{"d":373.5,"v":-0.85},{"d":380,"v":-0.8},{"d":386.5,"v":-0.78},{"d":388.8,"v":-0.85},{"d":392.5,"v":-0.72},{"d":398.5,"v":-1.05},{"d":401.8,"v":-0.98},{"d":406.5,"v":-0.75},{"d":410,"v":-0.8},{"d":412.5,"v":-0.78},{"d":417.5,"v":-0.85},{"d":422.5,"v":-0.8},{"d":425.5,"v":-0.92},{"d":430.5,"v":-0.95},{"d":433,"v":-0.9},{"d":438.2,"v":-0.85},
      {"d":443.3,"v":0.8},{"d":448.5,"v":0.82},{"d":451,"v":0.78},{"d":456,"v":0.75},{"d":460,"v":0.7},{"d":463.5,"v":0.72},{"d":465.5,"v":0.7},{"d":469,"v":0.78},{"d":472.5,"v":0.75},{"d":475,"v":0.7},{"d":476.8,"v":0.78},{"d":479.8,"v":0.85},{"d":483.5,"v":0.92},{"d":485,"v":0.88},{"d":488,"v":0.8},{"d":491,"v":0.75},{"d":495,"v":0.7},{"d":500,"v":0.82},{"d":503,"v":0.78},{"d":505.2,"v":0.72},{"d":507.5,"v":0.75},{"d":514.5,"v":0.8},{"d":516.8,"v":0.78},{"d":518.5,"v":0.75},{"d":522.8,"v":0.85},{"d":526.4,"v":0.8},{"d":528,"v":0.78},{"d":530.8,"v":0.82},{"d":533.5,"v":0.8},{"d":536.8,"v":0.75},
      {"d":443.5,"v":-0.8},{"d":446,"v":-0.92},{"d":452,"v":-0.85},{"d":454.8,"v":-0.78},{"d":459.3,"v":-0.72},{"d":461,"v":-0.85},{"d":465,"v":-0.78},{"d":467.8,"v":-0.82},{"d":475,"v":-0.8},{"d":477.5,"v":-0.85},{"d":479.3,"v":-0.88},{"d":483.2,"v":-1.0},{"d":488,"v":-0.95},{"d":492,"v":-0.78},{"d":494.5,"v":-0.85},{"d":500.5,"v":-0.78},{"d":503.5,"v":-0.8},{"d":508.5,"v":-0.85},{"d":515,"v":-0.82},{"d":517.5,"v":-0.78},{"d":522.5,"v":-0.82},{"d":525.5,"v":-0.9},{"d":528.5,"v":-0.78},{"d":530.2,"v":-0.86},{"d":534.6,"v":-0.8}
    ]
  },
  "vconcat": [
    {
      "width": 1156,
      "height": 261,
      "title": {"text": "Time Series of Sound Speed in the East Mooring: Depth 490 m", "fontSize": 26, "fontWeight": "normal", "font": "Liberation Sans", "color": "#000000", "offset": 15, "dx": 7},
      "resolve": {"axis": {"x": "independent", "y": "independent"}},
      "layer": [
        {
          "data": {"name": "top"},
          "mark": {"type": "area", "color": "#0e0e6c", "clip": true},
          "encoding": {
            "x": {"field": "d", "type": "quantitative", "scale": {"domain": [245.3, 539], "nice": false, "zero": false}, "axis": {"values": [250, 300, 350, 400, 450, 500], "labelExpr": "datum.value >= 400 ? format(datum.value - 350, 'd') : format(datum.value, 'd')", "title": null}},
            "y": {"field": "hi", "type": "quantitative", "scale": {"domain": [1478, 1487], "nice": false, "zero": false}, "axis": {"values": [1478, 1480, 1482, 1484, 1486], "format": "d", "title": null}},
            "y2": {"field": "lo"}
          }
        },
        {
          "data": {"name": "tsp"},
          "mark": {"type": "rule", "color": "#1a26a0", "strokeWidth": 1.5, "clip": true},
          "encoding": {
            "x": {"field": "d", "type": "quantitative", "axis": {"orient": "top", "values": [250, 300, 350, 400, 450, 500], "labels": false, "title": null}},
            "y": {"field": "t", "type": "quantitative", "axis": {"orient": "right", "values": [1478, 1480, 1482, 1484, 1486], "labels": false, "title": null}},
            "y2": {"field": "b"}
          }
        }
      ]
    },
    {
      "width": 1156,
      "height": 261,
      "resolve": {"axis": {"x": "independent", "y": "independent"}},
      "layer": [
        {
          "data": {"name": "mid"},
          "mark": {"type": "line", "color": "#0c0c74", "strokeWidth": 4.5, "clip": true, "strokeJoin": "round"},
          "encoding": {
            "x": {"field": "d", "type": "quantitative", "scale": {"domain": [245.3, 539], "nice": false, "zero": false}, "axis": {"values": [250, 300, 350, 400, 450, 500], "labelExpr": "datum.value >= 400 ? format(datum.value - 350, 'd') : format(datum.value, 'd')", "title": null}},
            "y": {"field": "v", "type": "quantitative", "scale": {"domain": [1478, 1487], "nice": false, "zero": false}, "axis": {"values": [1478, 1480, 1482, 1484, 1486], "format": "d", "title": "Sound Speed (m/s)", "titlePadding": 10}}
          }
        },
        {
          "data": {"name": "mid"},
          "mark": {"type": "line", "color": "#0c0c74", "strokeWidth": 1, "clip": true},
          "encoding": {
            "x": {"field": "d", "type": "quantitative", "axis": {"orient": "top", "values": [250, 300, 350, 400, 450, 500], "labels": false, "title": null}},
            "y": {"field": "v", "type": "quantitative", "axis": {"orient": "right", "values": [1478, 1480, 1482, 1484, 1486], "labels": false, "title": null}}
          }
        }
      ]
    },
    {
      "width": 1156,
      "height": 261,
      "resolve": {"axis": {"x": "independent", "y": "independent"}},
      "layer": [
        {
          "data": {"name": "bot"},
          "mark": {"type": "area", "color": "#0e0e6c", "clip": true},
          "encoding": {
            "x": {"field": "d", "type": "quantitative", "scale": {"domain": [245.3, 539], "nice": false, "zero": false}, "axis": {"values": [250, 300, 350, 400, 450, 500], "labelExpr": "datum.value >= 400 ? format(datum.value - 350, 'd') : format(datum.value, 'd')", "title": "Yearday, 1998 – 1999", "titlePadding": 8}},
            "y": {"field": "hi", "type": "quantitative", "scale": {"domain": [-2, 2], "nice": false, "zero": false}, "axis": {"values": [-2, -1, 0, 1, 2], "format": "d", "title": null}},
            "y2": {"field": "lo"}
          }
        },
        {
          "data": {"name": "bsp"},
          "mark": {"type": "rule", "color": "#1a26a0", "strokeWidth": 1.5, "clip": true},
          "encoding": {
            "x": {"field": "d", "type": "quantitative", "axis": {"orient": "top", "values": [250, 300, 350, 400, 450, 500], "labels": false, "title": null}},
            "y": {"field": "v", "type": "quantitative", "axis": {"orient": "right", "values": [-2, -1, 0, 1, 2], "labels": false, "title": null}},
            "y2": {"datum": 0}
          }
        }
      ]
    }
  ]
}
